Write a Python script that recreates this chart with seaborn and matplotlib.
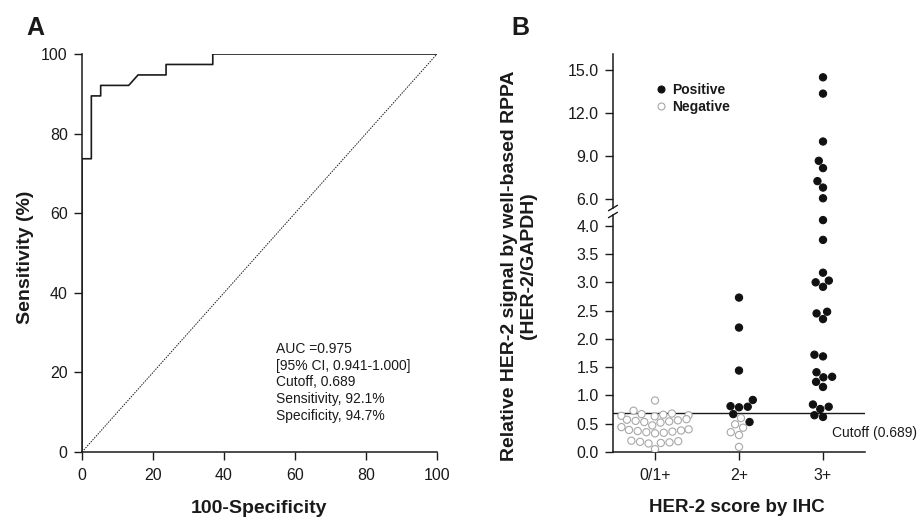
import matplotlib
matplotlib.use("Agg")
import matplotlib.pyplot as plt
from matplotlib.lines import Line2D
import seaborn as sns
import numpy as np
import pandas as pd

# ---------------- data ----------------
# Panel A: ROC curve (100-specificity, sensitivity in %)
roc_fpr = [0, 0, 2.63, 2.63, 5.26, 5.26, 13.16, 15.79, 23.68, 23.68, 36.84, 36.84, 100]
roc_tpr = [0, 73.68, 73.68, 89.47, 89.47, 92.11, 92.11, 94.74, 94.74, 97.37, 97.37, 100, 100]
roc_text = ["AUC =0.975", "[95% CI, 0.941-1.000]", "Cutoff, 0.689",
            "Sensitivity, 92.1%", "Specificity, 94.7%"]

# Panel B: relative HER-2 signal by IHC score
ihc_categories = ["0/1+", "2+", "3+"]
neg_01 = [0.91, 0.73, 0.68, 0.67, 0.66, 0.65, 0.64, 0.63, 0.58, 0.57, 0.56, 0.55,
          0.54, 0.53, 0.52, 0.47, 0.44, 0.40, 0.39, 0.38, 0.37, 0.36, 0.35, 0.34,
          0.33, 0.20, 0.19, 0.18, 0.17, 0.16, 0.15, 0.05]
neg_2 = [0.60, 0.49, 0.43, 0.35, 0.30, 0.09]
pos_2 = [2.73, 2.20, 1.44, 0.92, 0.81, 0.80, 0.79, 0.67, 0.53]
pos_3 = [14.49, 13.35, 10.0, 8.65, 8.14, 7.23, 6.78, 6.03, 4.10, 3.75, 3.17, 3.03,
         3.00, 2.92, 2.48, 2.45, 2.35, 1.72, 1.69, 1.41, 1.33, 1.32, 1.24, 1.15,
         0.84, 0.80, 0.76, 0.65, 0.62]
cutoff = 0.689
status_labels = ["Positive", "Negative"]
lower_ticks = [0.0, 0.5, 1.0, 1.5, 2.0, 2.5, 3.0, 3.5, 4.0]
upper_ticks = [6.0, 9.0, 12.0, 15.0]

df = pd.DataFrame({
    "score": (["0/1+"] * len(neg_01) + ["2+"] * len(neg_2) + ["2+"] * len(pos_2)
              + ["3+"] * len(pos_3)),
    "value": neg_01 + neg_2 + pos_2 + pos_3,
    "status": (["Negative"] * (len(neg_01) + len(neg_2))
               + ["Positive"] * (len(pos_2) + len(pos_3))),
})

# ---------------- style ----------------
sns.set_theme(style="ticks")
plt.rcParams["font.family"] = ["Liberation Sans", "DejaVu Sans"]
INK = "#1a1a1a"
GREY = "#a8a8a8"
plt.rcParams.update({
    "axes.edgecolor": INK, "xtick.color": INK, "ytick.color": INK,
    "axes.linewidth": 1.1, "xtick.major.width": 1.0, "ytick.major.width": 1.0,
    "xtick.major.size": 5.8, "ytick.major.size": 5.8,
    "xtick.major.pad": 6.0, "ytick.major.pad": 4.5,
    "xtick.labelsize": 11.5, "ytick.labelsize": 11.5,
    "text.color": INK, "axes.labelcolor": INK,
})

W, H = 919, 518
fig = plt.figure(figsize=(W / 100, H / 100), dpi=100)

def fr(x0, y0, x1, y1):
    return [x0 / W, 1 - y1 / H, (x1 - x0) / W, (y1 - y0) / H]

axA = fig.add_axes(fr(82, 54, 437, 452))
axT = fig.add_axes(fr(613, 54, 865, 208))
axB = fig.add_axes(fr(613, 215, 865, 452))

# ---------------- Panel A ----------------
sns.lineplot(x=roc_fpr, y=roc_tpr, sort=False, estimator=None, color=INK,
             linewidth=1.2, ax=axA)
axA.plot([0, 100], [0, 100], color=INK, linewidth=0.7, linestyle=(0, (1.5, 1.2)))
axA.set_xlim(0, 100)
axA.set_ylim(0, 100)
axA.set_xticks([0, 20, 40, 60, 80, 100])
axA.set_yticks([0, 20, 40, 60, 80, 100])
sns.despine(ax=axA)
axA.set_xlabel("100-Specificity", fontsize=14, fontweight="bold")
axA.set_ylabel("Sensitivity (%)", fontsize=14, fontweight="bold")
axA.xaxis.set_label_coords(0.5, -0.12)
axA.yaxis.set_label_coords(-0.135, 0.49)
axA.text(54.6, 27.6, "\n".join(roc_text), fontsize=10, va="top", ha="left",
         linespacing=1.24)

# ---------------- Panel B ----------------
palette = {"Positive": "#111111", "Negative": GREY}
for ax, sub in ((axT, df[df["value"] > 5]), (axB, df[df["value"] <= 5])):
    sns.swarmplot(data=sub, x="score", y="value", hue="status", order=ihc_categories,
                  hue_order=status_labels, palette=palette, size=5.2, linewidth=0.8,
                  legend=False, ax=ax)
    for coll in ax.collections:
        fc = np.array(coll.get_facecolors())
        if len(fc) == 0:
            continue
        is_neg = fc[:, 0] > 0.4
        ec = fc.copy()
        fc[is_neg] = [1, 1, 1, 1]
        coll.set_facecolors(fc)
        coll.set_edgecolors(ec)
        coll.set_linewidths(0.8)
    ax.set_xlim(-0.5, 2.5)
    ax.set_xlabel("")
    ax.set_ylabel("")

axT.set_ylim(5.35, 16.12)
axT.set_yticks(upper_ticks)
axT.set_yticklabels([f"{t:.1f}" for t in upper_ticks])
axT.tick_params(axis="x", bottom=False, labelbottom=False)
for s in ("top", "right", "bottom"):
    axT.spines[s].set_visible(False)

axB.set_ylim(0, 4.19)
axB.set_yticks(lower_ticks)
axB.set_yticklabels([f"{t:.1f}" for t in lower_ticks])
axB.set_xticks(range(len(ihc_categories)))
axB.set_xticklabels(ihc_categories)
sns.despine(ax=axB)
axB.axhline(cutoff, color=INK, linewidth=1.0, zorder=1)
axB.text(2.107, 0.336, f"Cutoff ({cutoff})", fontsize=10, va="center", ha="left")
axB.set_xlabel("HER-2 score by IHC", fontsize=13.5, fontweight="bold")
axB.xaxis.set_label_coords(0.49, -0.2)

# break marks on the y axis
kw = dict(color=INK, linewidth=1.0, clip_on=False)
dxT, dyT = 4.5 / 252, 2.7 / 154
axT.plot([-dxT, dxT], [-dyT, dyT], transform=axT.transAxes, **kw)
dyB = 2.7 / 237
axB.plot([-dxT, dxT], [1 - dyB, 1 + dyB], transform=axB.transAxes, **kw)

# legend
handles = [
    Line2D([], [], marker="o", linestyle="", markersize=5.0,
           markerfacecolor="#111111", markeredgecolor="#111111", markeredgewidth=0.8),
    Line2D([], [], marker="o", linestyle="", markersize=5.0,
           markerfacecolor="white", markeredgecolor=GREY, markeredgewidth=0.8),
]
axT.legend(handles, status_labels, loc="upper left", bbox_to_anchor=(650 / W, 1 - 76 / H),
           bbox_transform=fig.transFigure, frameon=False, handlelength=0.6,
           handletextpad=0.5, labelspacing=0.2, borderpad=0,
           prop={"weight": "bold", "size": 10})

fig.text(519 / W, 1 - 266 / H, "Relative HER-2 signal by well-based RPPA\n(HER-2/GAPDH)",
         rotation=90, ha="center", va="center", fontsize=14, fontweight="bold",
         multialignment="center", linespacing=1.1)

# panel letters
fig.text(26 / W, 1 - 35 / H, "A", fontsize=18, fontweight="bold", ha="left", va="baseline")
fig.text(511 / W, 1 - 35 / H, "B", fontsize=18, fontweight="bold", ha="left", va="baseline")

fig.savefig("out.png", dpi=100)
